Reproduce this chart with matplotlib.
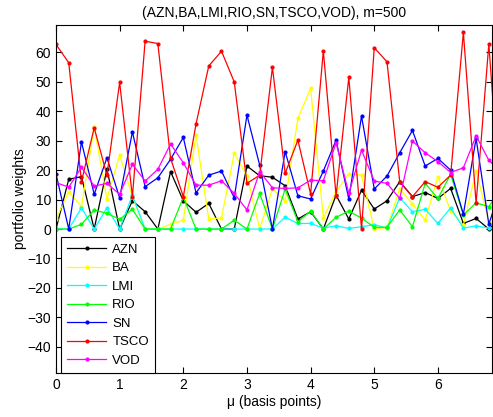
import numpy as np
import matplotlib
matplotlib.use("Agg")
import matplotlib.pyplot as plt

# mu grid (basis points)
mu = np.round(np.arange(36) * 0.2, 1)

names = ['AZN', 'BA', 'LMI', 'RIO', 'SN', 'TSCO', 'VOD']
colors = ['#000000', '#ffff00', '#00ffff', '#00ff00', '#0000ff', '#ff0000', '#ff00ff']

azn = [0, 16.9, 17.8, 0, 20.4, 0, 9.6, 5.9, 0, 19.5, 9.6, 5.7, 8.7, 0, 0, 21.4, 18.1, 17.6,
       14.7, 3.4, 5.9, 0, 11.5, 3.4, 13.2, 6.8, 9.6, 16.1, 11.0, 12.4, 10.4, 13.8, 1.9, 3.6, 0, 4]
ba = [3.4, 12.7, 7.6, 34.7, 10.2, 25.1, 11.0, 0, 0, 1.6, 3.0, 31.9, 3.4, 3.8, 25.7, 18.1, 0, 13.6,
      9.5, 37.6, 47.8, 3.8, 12.7, 18.7, 18.3, 0, 0.5, 13.6, 8.5, 3.0, 17.8, 6.1, 1.3, 19.8, 2.5, 8]
lmi = [0, 0, 7.2, 0, 7.2, 0, 11.5, 0, 0, 0, 0, 0, 0, 0, 0, 0, 0, 0,
       4.0, 1.9, 1.9, 0.3, 1.1, 0.2, 0.8, 1.5, 0.3, 10.6, 5.9, 6.7, 1.9, 7.2, 0.3, 1.1, 0.3, 0]
rio = [0, 0, 1.6, 6.5, 5.3, 3.3, 6.7, 0, 0, 0, 10.8, 0, 0, 0, 3.0, 0, 12.1, 0,
       13.6, 2.5, 6.1, 0, 4.0, 6.1, 3.7, 0.6, 0.6, 6.5, 0.8, 15.5, 10.4, 18.6, 4.8, 8.9, 7.6, 14]
sn = [18.7, 0, 29.6, 11.8, 24.2, 10.6, 33.0, 14.4, 17.4, 23.7, 31.1, 12.3, 18.3, 19.7, 10.6, 38.7, 21.7, 0,
      26.3, 11.3, 10.2, 19.7, 30.2, 10.2, 38.4, 13.6, 18.0, 25.9, 33.5, 21.4, 24.0, 20.0, 5.0, 30.8, 1.6, 15]
tsco = [62.7, 56.5, 16.1, 34.4, 18.3, 49.8, 11.0, 63.8, 63.0, 24.0, 11.0, 35.7, 55.4, 60.4, 50.0, 15.5, 18.3, 54.9,
        18.9, 30.2, 11.9, 60.5, 11.3, 51.5, 0, 61.6, 56.8, 16.1, 11.0, 16.1, 14.2, 18.3, 66.8, 8.7, 62.8, 3]
vod = [15.8, 14.2, 21.0, 14.6, 15.5, 11.8, 22.0, 16.3, 20.3, 28.9, 22.5, 14.9, 14.9, 16.4, 12.1, 6.5, 19.5, 14.0,
       13.8, 14.0, 16.6, 16.4, 29.3, 12.1, 26.8, 16.3, 15.5, 10.4, 29.9, 25.9, 22.9, 19.2, 20.8, 31.6, 23.4, 19]

weights = [azn, ba, lmi, rio, sn, tsco, vod]

plt.rcParams['font.family'] = ['Liberation Sans', 'DejaVu Sans']
plt.rcParams['font.size'] = 10

fig = plt.figure(figsize=(4.93, 4.17), dpi=100)
ax = fig.add_axes([0.1136, 0.1055, 0.8844, 0.8345])

for w, c, n in zip(weights, colors, names):
    ax.plot(mu, w, color=c, marker='.', markersize=4, linewidth=0.9, label=n)

ax.set_xlim(0, 6.85)
ax.set_ylim(-48.9, 69.3)
ax.set_xticks(range(0, 7))
ax.set_yticks(range(-40, 61, 10))
ax.tick_params(direction='in', top=True, right=True, length=4, width=0.8, labelsize=10)
for s in ax.spines.values():
    s.set_linewidth(0.8)

ax.set_title('(AZN,BA,LMI,RIO,SN,TSCO,VOD), m=500', fontsize=10, pad=6)
ax.set_xlabel('\u03bc (basis points)', fontsize=10, labelpad=2)
ax.set_ylabel('portfolio weights', fontsize=10, labelpad=0)

leg = ax.legend(loc='lower left', bbox_to_anchor=(0.011, 0.0), borderaxespad=0,
                fancybox=False, framealpha=1, edgecolor='k', fontsize=9.5,
                handlelength=3.0, handletextpad=0.45, labelspacing=0.48, borderpad=0.45)
leg.get_frame().set_linewidth(0.8)

fig.savefig('out.png', dpi=100)
